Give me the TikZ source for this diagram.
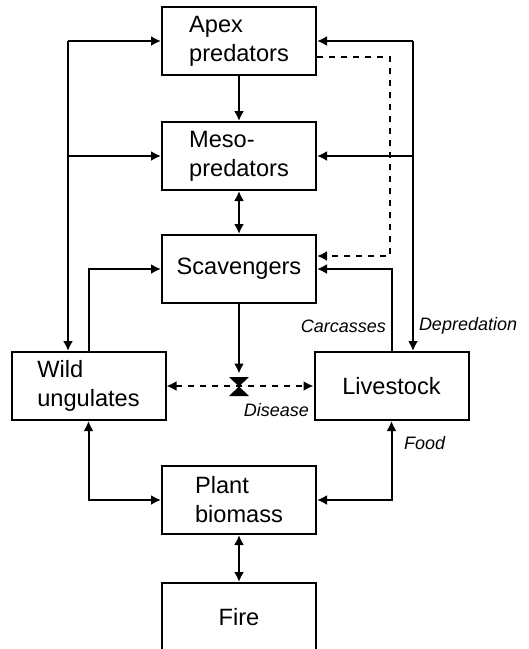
\documentclass[tikz,border=0pt]{standalone}
\usepackage{fontspec}
\setmainfont{Liberation Sans}
\usetikzlibrary{arrows.meta}
\begin{document}
\begin{tikzpicture}[x=0.5pt,y=-0.5pt,line width=1pt,
  pbox/.style={draw,minimum width=77pt,minimum height=34pt,inner sep=0pt,align=left,font=\fontsize{11.8}{14.5}\selectfont},
  lbl/.style={font=\fontsize{9}{11}\selectfont\itshape,inner sep=0pt},
  >={Latex[length=5pt,width=5pt]}]
  \useasboundingbox (0,0) rectangle (529,649);
  \node[pbox] (apex) at (239,41) {Apex\\predators};
  \node[pbox] (meso) at (239,156) {Meso-\\predators};
  \node[pbox] (scav) at (239,269) {Scavengers};
  \node[pbox] (wild) at (88.5,386) {Wild\\ungulates};
  \node[pbox] (live) at (391.5,386) {Livestock};
  \node[pbox] (plant) at (239,500) {Plant\\biomass};
  \node[pbox] (fire) at (239,617) {Fire};
  \coordinate (lt) at (68,41);
  \coordinate (rt) at (413,41);
  \coordinate (dis) at (239,386.5);
  \draw[->] (lt) -- (apex.west);
  \draw[->] (lt |- meso.west) -- (meso.west);
  \draw[->] (lt) -- (lt |- wild.north);
  \draw[->] (rt) -- (apex.east);
  \draw[->] (rt |- meso.east) -- (meso.east);
  \draw[->] (rt) -- (rt |- live.north);
  \draw[->,dashed] (apex.east |- 0,57) -- (390,57) |- (scav.east |- 0,256);
  \draw[->] (apex) -- (meso);
  \draw[<->] (meso) -- (scav);
  \draw[->] (wild.north) |- (scav.west);
  \draw[->] (live.north) |- (scav.east);
  \draw[->] (scav.south) -- ([yshift=6.5pt]dis);
  \fill (dis) -- (229,377) -- (249,377) -- cycle (dis) -- (229,396) -- (249,396) -- cycle;
  \draw[<->,dashed] (wild.east) -- (live.west);
  \draw[<->] (wild.south) |- (plant.west);
  \draw[<->] (live.south) |- (plant.east);
  \draw[<->] (plant) -- (fire);
  \node[lbl,anchor=east] (carc) at (387,326) {Carcasses};
  \node[lbl,anchor=west] (depr) at (418,326) {Depredation};
  \node[lbl,anchor=east] (dise) at (310,410) {Disease};
  \node[lbl,anchor=west] (food) at (403,443) {Food};
\end{tikzpicture}
\end{document}
